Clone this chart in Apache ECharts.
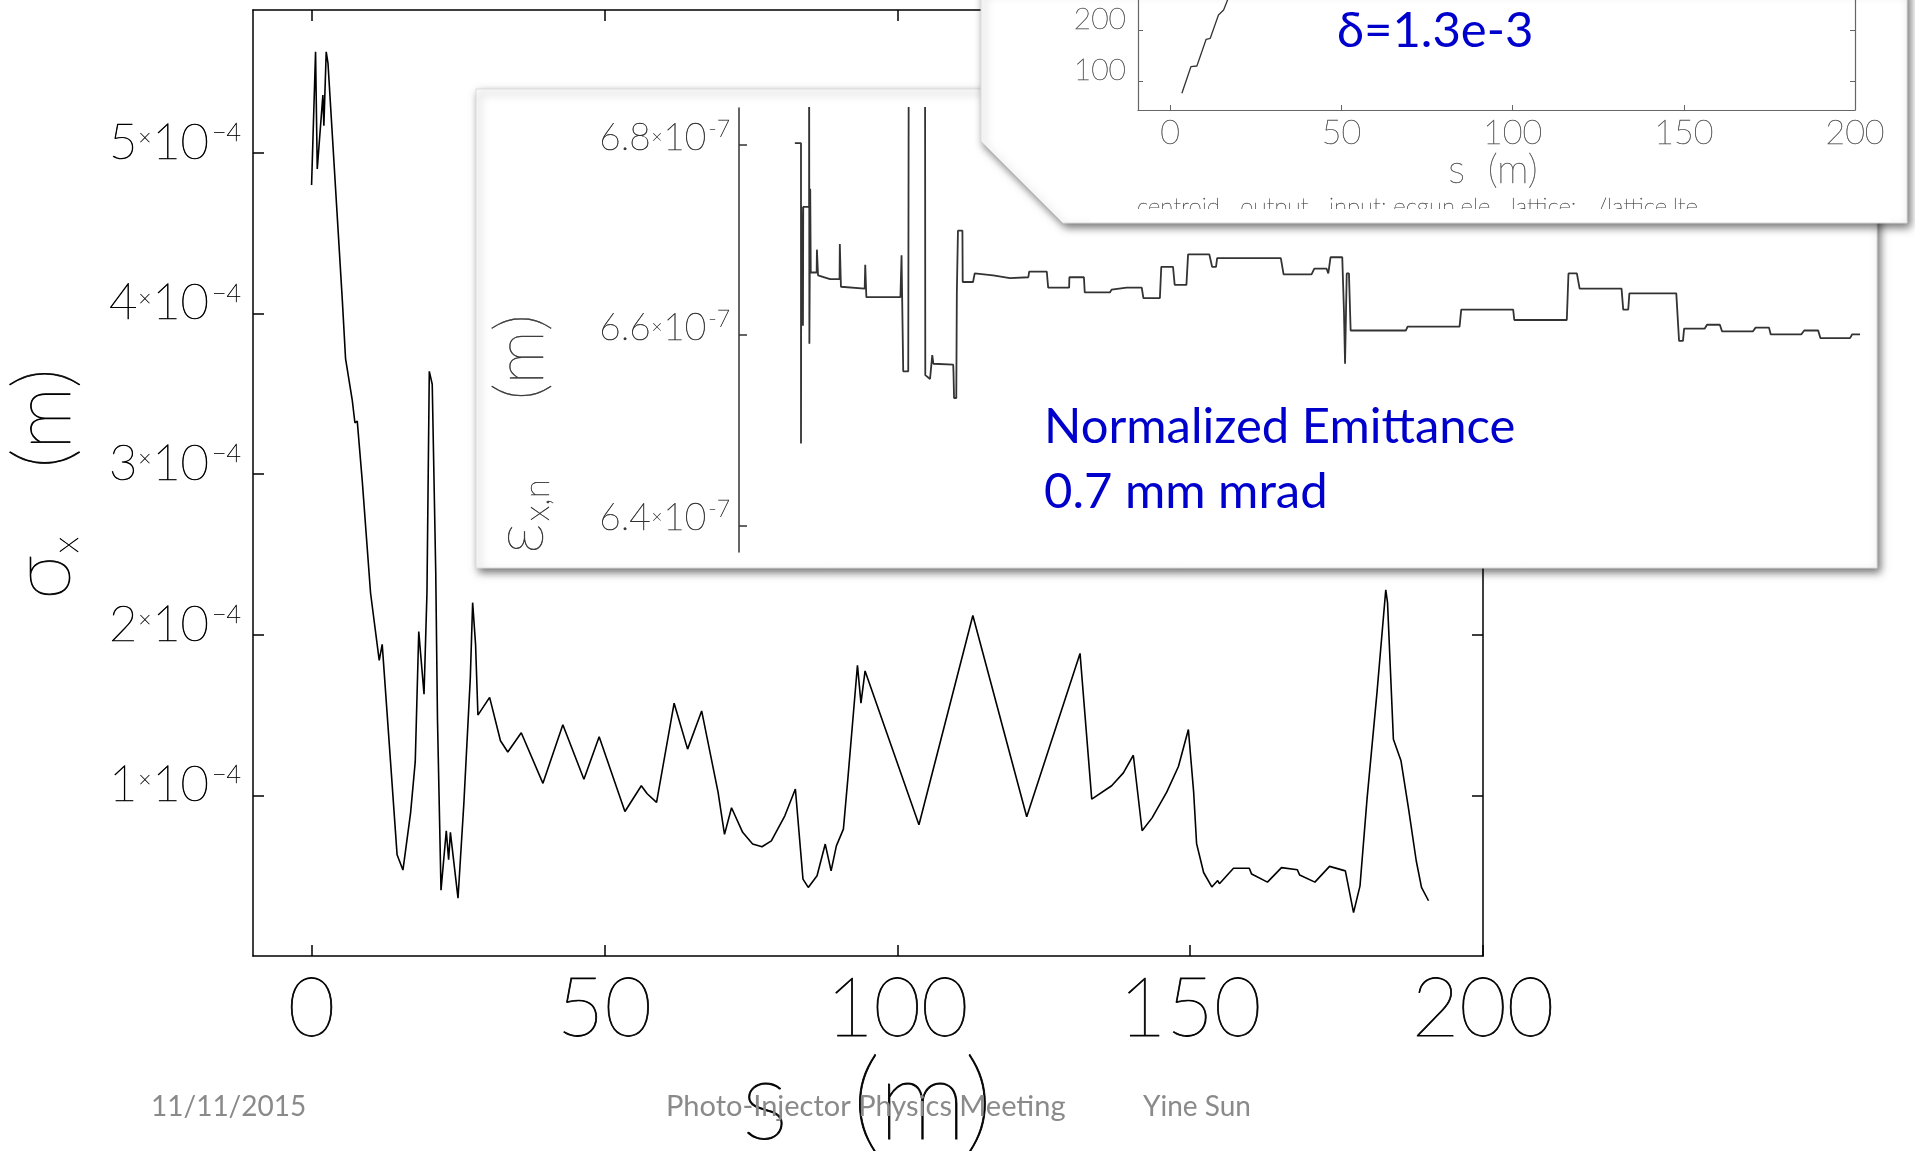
<!DOCTYPE html>
<html><head><meta charset="utf-8">
<script src="https://cdn.jsdelivr.net/npm/echarts@6/dist/echarts.min.js"></script>
<style>html,body{margin:0;padding:0;background:#fff}#c{width:1915px;height:1151px}</style>
</head><body><div id="c"></div>
<script>
// ---- main plot: sigma_x (units of 1e-4 m) vs s (m)
const sPos = [0,0.68,0.97,1.93,2.1,2.5,2.8,5.24,5.8,6.95,7.4,7.8,8.65,10.07,11.55,12.06,13.48,14.6,15.6,16.9,17.7,18.3,19.2,19.7,20.1,20.6,21.2,21.5,22.1,23.0,23.4,23.7,25.0,26.0,27.1,27.5,28.0,28.4,30.4,32.25,33.5,35.8,39.5,42.9,46.5,49.1,53.5,56.3,57.3,58.9,61.9,64.2,66.6,69.4,70.5,71.7,73.6,75.3,76.9,78.5,80.8,82.6,83.9,84.8,86.3,87.7,88.7,89.6,90.8,91.6,93.2,93.8,94.5,103.7,112.9,122.1,131.2,133.2,136.6,138.6,140.3,141.8,143.5,146.0,148.0,149.7,150.6,151.1,152.3,153.7,154.7,155.0,157.4,160.1,160.5,163.2,165.6,168.3,168.7,171.3,173.8,176.5,177.9,179.0,180.2,181.9,183.4,183.7,184.7,186.0,187.3,188.6,189.5,190.7];
const sigmaX = [4.80,5.63,4.90,5.36,5.17,5.63,5.56,4.09,3.72,3.46,3.32,3.33,2.96,2.26,1.84,1.94,1.21,0.63,0.535,0.89,1.21,2.02,1.63,2.26,3.64,3.56,2.39,1.47,0.41,0.78,0.60,0.77,0.36,0.95,1.73,2.20,1.94,1.50,1.61,1.34,1.27,1.39,1.075,1.44,1.10,1.365,0.90,1.06,1.01,0.956,1.574,1.288,1.526,1.02,0.757,0.923,0.77,0.697,0.68,0.717,0.873,1.04,0.479,0.427,0.50,0.697,0.53,0.686,0.79,1.12,1.81,1.574,1.775,0.817,2.12,0.867,1.884,0.977,1.06,1.14,1.25,0.78,0.86,1.02,1.18,1.41,1.02,0.70,0.52,0.43,0.47,0.45,0.546,0.546,0.51,0.46,0.55,0.537,0.504,0.46,0.558,0.53,0.27,0.437,0.977,1.64,2.28,2.20,1.35,1.215,0.915,0.593,0.427,0.344];

// ---- inset 1: normalized emittance (units of 1e-7 m) vs s (m)
const emitS = [0,1.1,1.1,1.15,1.45,1.45,1.5,2.55,2.55,2.6,2.75,2.85,3.9,3.95,4.1,4.15,4.5,6.3,8.0,8.05,8.2,8.25,12.5,12.6,12.75,12.8,18.9,19.1,19.3,19.4,20.3,20.4,23.3,23.35,24.2,24.6,24.8,28.35,28.4,28.5,28.9,29.0,29.2,30.0,30.05,31.9,32.2,35.5,38.5,41.8,41.95,45.1,45.35,49.1,49.15,51.75,51.9,56.4,56.7,59.4,62.1,62.4,65.35,65.6,67.7,68.0,70.1,70.4,74.2,74.7,75.4,75.6,87.0,87.5,92.5,93.0,95.2,95.5,95.9,98.0,98.3,98.5,98.8,99.2,99.5,109.4,109.7,119.0,119.3,128.6,128.8,138.2,138.5,140.0,140.5,148.0,148.3,149.2,149.4,157.8,158.3,159.0,159.2,162.9,163.3,165.6,166.0,171.5,172.0,174.4,174.7,180.2,180.7,183.2,183.6,188.9,189.3,190.7];
const emitN = [6.802,6.802,6.486,6.735,6.735,6.610,6.735,6.735,6.95,6.591,6.754,6.666,6.666,6.690,6.690,6.663,6.663,6.659,6.659,6.696,6.696,6.651,6.649,6.674,6.674,6.640,6.640,6.684,6.684,6.562,6.562,6.95,6.95,6.558,6.554,6.579,6.570,6.569,6.561,6.534,6.534,6.645,6.710,6.710,6.656,6.656,6.665,6.663,6.660,6.661,6.667,6.667,6.650,6.650,6.661,6.661,6.645,6.645,6.648,6.650,6.650,6.639,6.639,6.672,6.672,6.653,6.653,6.685,6.685,6.672,6.672,6.681,6.681,6.664,6.664,6.670,6.670,6.665,6.682,6.682,6.626,6.570,6.665,6.665,6.605,6.605,6.609,6.609,6.627,6.627,6.616,6.616,6.665,6.665,6.649,6.649,6.627,6.627,6.644,6.644,6.594,6.594,6.607,6.607,6.611,6.611,6.604,6.604,6.608,6.608,6.601,6.601,6.605,6.605,6.597,6.597,6.601,6.601];

// ---- inset 2 (top right): visible part of the energy curve vs s (m)
const gamS = [3.42,6.05,7.8,10.5,11.7,14.1,15.6,16.75,20];
const gamV = [75.5,128.4,129.8,182.9,184.9,231.2,241.2,261,320];

// ---- tick values
const xTicks = [0,50,100,150,200];
const sigmaTicks = [1,2,3,4,5];
const emitTicks = [6.4,6.6,6.8];
const gamTicks = [100,200];

const zip = (a,b) => a.map((v,i)=>[v,b[i]]);
const THIN = 'Lato';
const TW = 200;

const chart = echarts.init(document.getElementById('c'), null, {renderer:'canvas'});

const blackTick = {inside:true, length:11, lineStyle:{color:'#000', width:1.5}, customValues:xTicks};
const thin = (size, color, bw, extra) => Object.assign({fontFamily:THIN, fontWeight:TW, fontSize:size, color:color, textBorderColor:color, textBorderWidth:bw}, extra || {});

const option = {
  animation:false,
  backgroundColor:'#fff',
  grid:[
    {left:253, top:10, width:1230, height:946},
    {left:739, top:108, width:1173, height:444},
    {left:1138, top:0, width:717, height:110}
  ],
  xAxis:[
    {gridIndex:0, type:'value', min:-10, max:200, position:'bottom',
     axisLine:{onZero:false, lineStyle:{color:'#000', width:1.5}},
     axisTick:blackTick, splitLine:{show:false},
     axisLabel:thin(82, '#000', 0.8, {customValues:xTicks, margin:13})},
    {gridIndex:0, type:'value', min:-10, max:200, position:'top',
     axisLine:{onZero:false, lineStyle:{color:'#000', width:1.5}},
     axisTick:blackTick, splitLine:{show:false}, axisLabel:{show:false}},
    {gridIndex:1, type:'value', min:-10, max:200, show:false},
    {gridIndex:2, type:'value', min:-9.4, max:200, position:'bottom', z:7,
     axisLine:{onZero:false, lineStyle:{color:'#666', width:1.2}},
     axisTick:{inside:true, length:5, lineStyle:{color:'#666'}, customValues:xTicks},
     splitLine:{show:false},
     axisLabel:thin(34, '#555', 0.4, {customValues:xTicks, margin:6})}
  ],
  yAxis:[
    {gridIndex:0, type:'value', min:0, max:5.89, position:'left',
     axisLine:{show:true, onZero:false, lineStyle:{color:'#000', width:1.5}},
     axisTick:{inside:true, length:11, lineStyle:{color:'#000', width:1.5}, customValues:sigmaTicks},
     splitLine:{show:false},
     axisLabel:{customValues:sigmaTicks, verticalAlign:'middle', margin:12,
       formatter: v => `{n|${v}}{t|×}{n|10}{e|−4}`,
       rich:{
         n:thin(49, '#000', 0.7, {lineHeight:30, padding:[0,0,20,0]}),
         t:thin(22, '#000', 0.5, {lineHeight:22, padding:[0,1,30,1]}),
         e:thin(25, '#000', 0.5, {lineHeight:25, padding:[0,0,40,3]})
       }}},
    {gridIndex:0, type:'value', min:0, max:5.89, position:'right',
     axisLine:{show:true, onZero:false, lineStyle:{color:'#000', width:1.5}},
     axisTick:{inside:true, length:11, lineStyle:{color:'#000', width:1.5}, customValues:sigmaTicks},
     splitLine:{show:false}, axisLabel:{show:false}},
    {gridIndex:1, type:'value', min:6.372, max:6.839, position:'left', z:4,
     axisLine:{show:true, onZero:false, lineStyle:{color:'#333', width:1.5}},
     axisTick:{inside:true, length:8, lineStyle:{color:'#333', width:1.5}, customValues:emitTicks},
     splitLine:{show:false},
     axisLabel:{customValues:emitTicks, verticalAlign:'middle', margin:9,
       formatter: v => `{n|${v.toFixed(1)}}{t|×}{n|10}{e|-7}`,
       rich:{
         n:thin(37, '#333', 0.5, {lineHeight:32, padding:[0,0,14,0]}),
         t:thin(18, '#333', 0.4, {lineHeight:18, padding:[0,1,16,1]}),
         e:thin(23, '#333', 0.4, {lineHeight:23, padding:[0,0,32,2]})
       }}},
    {gridIndex:2, type:'value', min:42.3, max:261, position:'left', z:7,
     axisLine:{show:true, onZero:false, lineStyle:{color:'#666', width:1.2}},
     axisTick:{inside:true, length:5, lineStyle:{color:'#666'}, customValues:gamTicks},
     splitLine:{show:false},
     axisLabel:thin(30, '#555', 0.4, {customValues:gamTicks, verticalAlign:'bottom', margin:12, lineHeight:22})},
    {gridIndex:2, type:'value', min:42.3, max:261, position:'right', z:7,
     axisLine:{show:true, onZero:false, lineStyle:{color:'#666', width:1.2}},
     axisTick:{inside:true, length:5, lineStyle:{color:'#666'}, customValues:gamTicks},
     splitLine:{show:false}, axisLabel:{show:false}}
  ],
  series:[
    {type:'line', xAxisIndex:0, yAxisIndex:0, data:zip(sPos, sigmaX), showSymbol:false, symbol:'none',
     lineStyle:{color:'#000', width:1.6}, z:2},
    {type:'line', xAxisIndex:2, yAxisIndex:2, data:zip(emitS, emitN), showSymbol:false, symbol:'none', clip:true,
     lineStyle:{color:'#333', width:1.8}, z:4},
    {type:'line', xAxisIndex:3, yAxisIndex:3, data:zip(gamS, gamV), showSymbol:false, symbol:'none', clip:true,
     lineStyle:{color:'#333', width:1.3}, z:7}
  ],
  graphic:[
    // axis titles of main plot
    {type:'text', x:867, y:1103, z:1, style:{text:'s  (m)', fontFamily:THIN, fontWeight:TW, fontSize:112, fill:'#000', stroke:'#000', lineWidth:0.9, align:'center', verticalAlign:'middle'}},
    {type:'text', x:44, y:484, rotation:Math.PI/2, z:1,
     style:{text:'{a|σ}{b|x}{a|   (m)}', align:'center', verticalAlign:'middle',
       rich:{a:{fontFamily:THIN, fontWeight:TW, fontSize:80, lineHeight:80, verticalAlign:'top', fill:'#000', stroke:'#000', lineWidth:0.8},
             b:{fontFamily:THIN, fontWeight:TW, fontSize:36, lineHeight:36, verticalAlign:'bottom', padding:[58,0,0,2], fill:'#000', stroke:'#000', lineWidth:0.6}}}},
    // inset 1 box
    {type:'rect', z:3, shape:{x:476, y:89, width:1401, height:479},
     style:{fill:'#fff', stroke:'#dcdcdc', lineWidth:1, shadowBlur:8, shadowOffsetX:3, shadowOffsetY:4, shadowColor:'rgba(0,0,0,0.55)'}},
    {type:'text', x:521, y:434, rotation:Math.PI/2, z:5,
     style:{text:'{a|ε}{b|x,n}{a|    (m)}', align:'center', verticalAlign:'middle',
       rich:{a:{fontFamily:THIN, fontWeight:TW, fontSize:69, lineHeight:69, verticalAlign:'top', fill:'#333', stroke:'#333', lineWidth:0.5},
             b:{fontFamily:THIN, fontWeight:TW, fontSize:35, lineHeight:35, verticalAlign:'bottom', padding:[45,0,0,2], fill:'#333', stroke:'#333', lineWidth:0.4}}}},
    {type:'text', x:1044, y:427, z:5, style:{text:'Normalized Emittance', fontFamily:'Lato', fontSize:49, fill:'#0000cc', align:'left', verticalAlign:'middle'}},
    {type:'text', x:1044, y:492, z:5, style:{text:'0.7 mm mrad', fontFamily:'Lato', fontSize:49, fill:'#0000cc', align:'left', verticalAlign:'middle'}},
    // inset 2 box (chamfered corner)
    {type:'polygon', z:6, shape:{points:[[981,-10],[1907,-10],[1907,223],[1063,223],[981,141]]},
     style:{fill:'#fff', stroke:'#dcdcdc', lineWidth:1, shadowBlur:8, shadowOffsetX:3, shadowOffsetY:4, shadowColor:'rgba(0,0,0,0.55)'}},
    {type:'text', x:1337, y:31, z:8, style:{text:'δ=1.3e-3', fontFamily:'Lato', fontSize:49, fill:'#0000cc', align:'left', verticalAlign:'middle'}},
    {type:'text', x:1493, y:170, z:8, style:{text:'s  (m)', fontFamily:THIN, fontWeight:TW, fontSize:40, fill:'#555', stroke:'#555', lineWidth:0.4, align:'center', verticalAlign:'middle'}},
    {type:'text', x:1137, y:207, z:8, style:{text:'centroid   output   input: ecgun.ele   lattice:   /lattice.lte', fontFamily:THIN, fontWeight:TW, fontSize:24, fill:'#444', stroke:'#444', lineWidth:0.3, align:'left', verticalAlign:'middle'}},
    {type:'rect', z:9, shape:{x:1090, y:209, width:800, height:13}, style:{fill:'#fff'}},
    // footer
    {type:'text', x:151, y:1107, z:10, style:{text:'11/11/2015', fontFamily:'Lato', fontSize:28, fill:'#8a8a8a', align:'left', verticalAlign:'middle'}},
    {type:'text', x:666, y:1107, z:10, style:{text:'Photo-Injector Physics Meeting', fontFamily:'Lato', fontSize:29, fill:'#8a8a8a', align:'left', verticalAlign:'middle'}},
    {type:'text', x:1143, y:1107, z:10, style:{text:'Yine Sun', fontFamily:'Lato', fontSize:28, fill:'#8a8a8a', align:'left', verticalAlign:'middle'}}
  ]
};
chart.setOption(option);
</script></body></html>
